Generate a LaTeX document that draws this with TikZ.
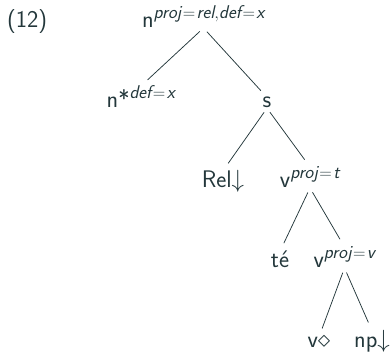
\documentclass[tikz,border=0pt]{standalone}
\usepackage{amsmath}
\DeclareMathSizes{24}{24}{18.5}{13}
\definecolor{ink}{HTML}{23373B}
% feature label: italic attribute = italic value
\newcommand{\feat}[2]{\textit{#1}\mkern1.5mu{=}\mkern1.5mu\textit{#2}}
\begin{document}
\begin{tikzpicture}[x=1pt,y=1pt,
  lbl/.style={inner sep=0pt, outer sep=0pt, anchor=base, text=ink,
              font=\fontsize{24}{28}\selectfont\sffamily},
  edge/.style={draw=ink, line width=0.75pt, shorten <=5pt, shorten >=9pt}]
\useasboundingbox (0,0) rectangle (392,352);
% example number
\node[lbl, anchor=base west] (num) at (7,324) {(12)};
% tree nodes
\node[lbl] (root) at (203.5,324) {n$^{\feat{proj}{rel},\feat{def}{x}}$};
\node[lbl] (nstar) at (141,244) {n*$^{\feat{def}{x}}$};
\node[lbl] (s) at (267,244) {s};
\node[lbl] (rel) at (223,164) {Rel$\downarrow$};
\node[lbl] (vt) at (310,164) {v$^{\feat{proj}{t}}$};
\node[lbl] (te) at (280,84) {té};
\node[lbl] (vv) at (344.5,84) {v$^{\feat{proj}{v}}$};
\node[lbl] (vd) at (319,4) {v$\diamond$};
\node[lbl] (np) at (372,4) {np$\downarrow$};
% branches
\draw[edge] (root.south) -- (nstar.north);
\draw[edge] (root.south) -- (s.north);
\draw[edge] (s.south) -- (rel.north);
\draw[edge] (s.south) -- (vt.north);
\draw[edge] (vt.south) -- (te.north);
\draw[edge] (vt.south) -- (vv.north);
\draw[edge] (vv.south) -- (vd.north);
\draw[edge] (vv.south) -- (np.north);
\end{tikzpicture}
\end{document}
